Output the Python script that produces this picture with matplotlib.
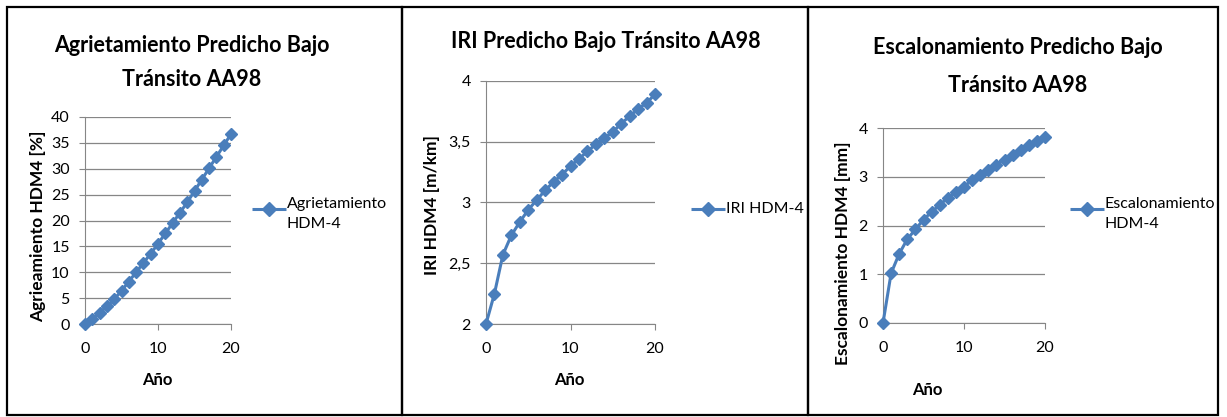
import matplotlib.pyplot as plt
from matplotlib.patches import Rectangle
from matplotlib.lines import Line2D

W, H = 1227, 417
FONT = ['Lato', 'DejaVu Sans']
plt.rcParams['font.family'] = FONT

anio = list(range(21))
agrietamiento = [0, 1.0, 2.2, 3.4, 4.8, 6.4, 8.2, 10.0, 11.8, 13.6, 15.5,
                 17.5, 19.5, 21.5, 23.5, 25.7, 27.9, 30.1, 32.3, 34.5, 36.7]
iri = [2.0, 2.25, 2.57, 2.73, 2.84, 2.94, 3.02, 3.10, 3.17, 3.23, 3.30,
       3.36, 3.42, 3.48, 3.53, 3.58, 3.65, 3.71, 3.77, 3.82, 3.89]
escalonamiento = [0, 1.02, 1.42, 1.72, 1.92, 2.12, 2.28, 2.42, 2.57, 2.68, 2.80,
                  2.93, 3.03, 3.13, 3.25, 3.35, 3.45, 3.55, 3.65, 3.73, 3.82]

AZUL = '#4a7ebb'
GRIS = '#868686'
TITULO = 15.5
YLAB = 12.5

fig = plt.figure(figsize=(W / 100, H / 100), dpi=100)


def fx(px):
    return px / W


def fy(py):
    return 1 - py / H


def panel_box(x0, x1, y0=7, y1=415):
    fig.patches.append(Rectangle((fx(x0), fy(y1)), fx(x1 - x0), (y1 - y0) / H,
                                 transform=fig.transFigure, fill=False,
                                 edgecolor='black', lw=1.6))


def make_axes(x0, x1, ytop, ybot, ymin, ymax, yticks, ylabels):
    ax = fig.add_axes([fx(x0), fy(ybot), fx(x1 - x0), (ybot - ytop) / H])
    ax.set_xlim(0, 20)
    ax.set_ylim(ymin, ymax)
    ax.set_xticks([0, 10, 20])
    ax.set_yticks(yticks)
    ax.set_yticklabels(ylabels)
    ax.grid(axis='y', color=GRIS, lw=0.9)
    ax.set_axisbelow(True)
    for s in ['top', 'right']:
        ax.spines[s].set_visible(False)
    for s in ['left', 'bottom']:
        ax.spines[s].set_color(GRIS)
    ax.tick_params(colors=GRIS, labelcolor='black', labelsize=11.5, length=4)
    ax.tick_params(axis='x', pad=9)
    ax.tick_params(axis='y', pad=7)
    return ax


def serie(ax, y):
    ax.plot(anio, y, color=AZUL, lw=2.2, marker='D', markersize=6.5, clip_on=False, zorder=3)


def legend_item(x0, y, label):
    fig.lines.append(Line2D([fx(x0), fx(x0 + 34)], [fy(y), fy(y)], transform=fig.transFigure,
                            color=AZUL, lw=2.2, solid_capstyle='butt'))
    fig.lines.append(Line2D([fx(x0 + 17)], [fy(y)], transform=fig.transFigure,
                            color=AZUL, marker='D', markersize=7, lw=0))
    if '\n' in label:
        fig.text(fx(x0 + 35), fy(y - 12), label, fontsize=11.5, va='top',
                 ha='left', linespacing=1.55)
    else:
        fig.text(fx(x0 + 35), fy(y), label, fontsize=11.5, va='center', ha='left')


# Panel 1
panel_box(7, 402)
ax1 = make_axes(85, 231, 117, 324, 0, 40, range(0, 41, 5), [str(v) for v in range(0, 41, 5)])
serie(ax1, agrietamiento)
fig.text(fx(192), fy(45), 'Agrietamiento Predicho Bajo', fontsize=TITULO, weight='bold', ha='center', va='center')
fig.text(fx(192), fy(79), 'Tránsito AA98', fontsize=TITULO, weight='bold', ha='center', va='center')
fig.text(fx(38), fy(226), 'Agrieamiento HDM4 [%]', fontsize=YLAB, weight='bold', rotation=90, ha='center', va='center')
fig.text(fx(157), fy(380), 'Año', fontsize=12, weight='bold', ha='center', va='center')
legend_item(252, 209, 'Agrietamiento\nHDM-4')

# Panel 2
panel_box(402, 808)
ax2 = make_axes(486, 655, 81, 324, 2, 4, [2, 2.5, 3, 3.5, 4], ['2', '2,5', '3', '3,5', '4'])
serie(ax2, iri)
fig.text(fx(606), fy(42), 'IRI Predicho Bajo Tránsito AA98', fontsize=TITULO, weight='bold', ha='center', va='center')
fig.text(fx(432), fy(205), 'IRI HDM4 [m/km]', fontsize=YLAB, weight='bold', rotation=90, ha='center', va='center')
fig.text(fx(569), fy(380), 'Año', fontsize=12, weight='bold', ha='center', va='center')
legend_item(691, 209, 'IRI HDM-4')

# Panel 3
panel_box(808, 1218)
ax3 = make_axes(883, 1045, 128, 323, 0, 4, [0, 1, 2, 3, 4], ['0', '1', '2', '3', '4'])
serie(ax3, escalonamiento)
fig.text(fx(1018), fy(48), 'Escalonamiento Predicho Bajo', fontsize=TITULO, weight='bold', ha='center', va='center')
fig.text(fx(1018), fy(86), 'Tránsito AA98', fontsize=TITULO, weight='bold', ha='center', va='center')
fig.text(fx(843), fy(253), 'Escalonamiento HDM4 [mm]', fontsize=YLAB, weight='bold', rotation=90, ha='center', va='center')
fig.text(fx(927), fy(390), 'Año', fontsize=12, weight='bold', ha='center', va='center')
legend_item(1070, 209, 'Escalonamiento\nHDM-4')

fig.savefig('out.png', dpi=100)
